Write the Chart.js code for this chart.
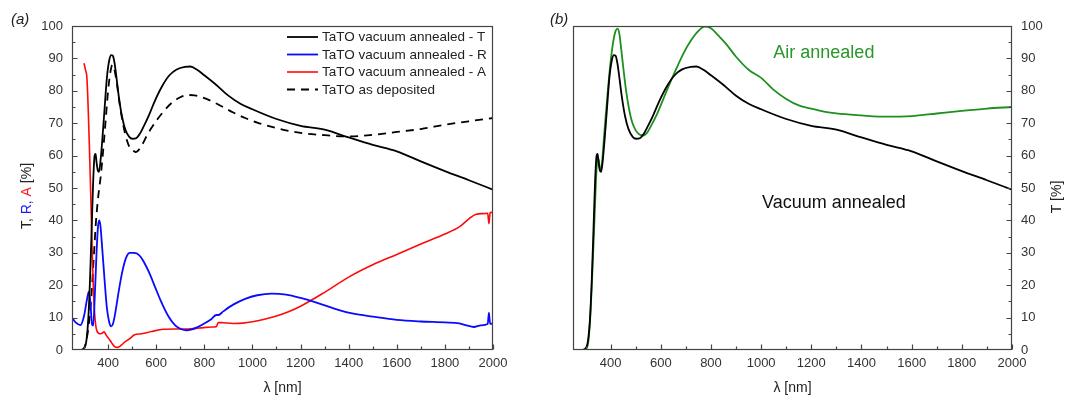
<!DOCTYPE html>
<html>
<head>
<meta charset="utf-8">
<script src="https://cdn.jsdelivr.net/npm/chart.js@4.4.1/dist/chart.umd.min.js"></script>
<style>
body { margin: 0; background: #fff; }
#wrap { position: relative; width: 1066px; height: 398px; }
#chartA { position: absolute; left: 0; top: 0; }
#chartB { position: absolute; left: 540px; top: 0; }
</style>
</head>
<body>
<div id="wrap">
  <canvas id="chartA" width="540" height="398"></canvas>
  <canvas id="chartB" width="526" height="398"></canvas>
</div>
<script>
// wavelength (nm) / value (%)
var tWl  = [285,300,310,318,325,332,338,344,348,352,357,362,368,375,385,395,405,413,420,427,435,445,458,472,488,502,515,530,548,570,595,625,655,685,720,742,770,800,850,900,950,1000,1100,1200,1300,1400,1500,1600,1700,1800,1900,2000];
var tVal = [0,0.5,3,10,22,38,52,60,60.5,58,55.5,55,58,64,74,84,89.5,91,90.8,88.5,84,78,72,68,65.8,65.2,65.3,66.5,69,72.5,77,81.5,84.8,86.6,87.4,87.5,86.5,84.8,81.8,78.5,76,74.3,71.3,69.2,68,65.6,63.3,61.3,58.2,55.2,52.4,49.5];

var depWl  = [290,300,310,320,330,340,350,360,370,380,390,400,410,418,425,435,450,470,490,505,515,530,545,560,580,605,635,665,700,730,760,790,830,870,920,970,1020,1100,1200,1300,1400,1500,1600,1700,1800,1900,2000];
var depVal = [0,0.5,3,8,16,28,40,48,54,62,71,80,86,88,87,83,75,67,62.5,61.5,61.1,62,63.8,66,68.5,71.2,74,76.3,78,78.7,78.6,78,76.8,75.3,73.3,71.6,70.2,68.5,67,66.3,65.9,66.4,67.3,68.2,69.5,70.6,71.6];

var rWl  = [250,265,285,300,312,320,326,333,338,345,352,358,363,368,375,385,395,405,413,420,430,445,460,475,490,505,520,535,550,570,595,620,650,680,705,725,745,770,800,830,850,858,880,920,970,1020,1080,1140,1200,1260,1340,1420,1500,1600,1700,1800,1860,1890,1920,1950,1978,1983,1988,2000];
var rVal = [10,8.5,7.7,10.5,15.5,18,15,8,7.5,17,30,38,40,38.5,32,22,13,8.5,7.3,8,11.5,18.5,24.5,28.5,30,30,29.8,28.8,27,24,19.5,15,10.5,7.5,6.4,6.1,6.3,7,8.2,9.6,10.8,10.8,12,14,15.8,16.9,17.4,17.1,16.1,14.8,12.8,11.2,10.3,9.3,8.8,8.5,8.2,7.6,7.1,7.6,8,11.5,8.1,8.2];

var aWl  = [300,306,312,318,323,329,334,339,343,348,353,365,375,383,392,403,415,428,440,455,470,490,510,540,580,630,680,730,780,830,850,858,880,920,960,1000,1050,1100,1150,1200,1300,1400,1500,1600,1700,1800,1860,1900,1930,1960,1978,1983,1988,2000];
var aVal = [88.5,86.5,84,73,61,45,30,19,12.5,8,6,5,5.2,5.6,4.6,3.5,2.2,1,0.8,1.5,2.5,3.5,4.7,5,5.7,6.4,6.5,6.5,6.8,7.1,7.2,8.5,8.4,8.2,8.3,8.7,9.5,10.5,11.8,13.5,17.8,22.5,26.3,29.5,32.7,35.8,38,40.5,41.9,42.1,42.2,39,42.4,42.5];

var airWl  = [300,310,318,325,332,338,344,349,353,357,361,366,372,380,390,400,410,420,428,435,442,450,460,472,485,500,515,530,545,560,580,605,630,660,690,720,750,775,800,830,860,900,950,1000,1050,1100,1150,1200,1250,1300,1400,1500,1600,1700,1800,1900,2000];
var airVal = [0,2,9,20,33,45,56,59,58.5,56,55.5,58,64,72,81,89,95,98.5,99.2,97.5,93,87.5,81,75,70.5,67.8,66.5,66.2,67,69,72,76.5,81.2,86.5,91.5,95.5,98.5,99.8,99.3,97,94.5,90.5,86.5,84,80.3,77.5,75.5,74.5,73.6,73,72.4,72,72.2,73,73.8,74.5,75];

var xTicks = [400,600,800,1000,1200,1400,1600,1800,2000];
var legendLabels = ['TaTO vacuum annealed - T','TaTO vacuum annealed - R','TaTO vacuum annealed - A','TaTO as deposited'];

var fontFam = '"Liberation Sans", Arial, sans-serif';
Chart.defaults.font.family = fontFam;
Chart.defaults.color = '#333';

function pts(wl, val) {
    return wl.map(function(w, i){ return {x: w, y: val[i]}; });
}

function lineSet(label, wl, val, color, width, dash) {
    return {
        label: label,
        data: pts(wl, val),
        borderColor: color,
        backgroundColor: color,
        borderWidth: width,
        borderDash: dash || [],
        pointRadius: 0,
        fill: false,
        cubicInterpolationMode: 'monotone'
    };
}

// frame + inward ticks
var frameTicks = {
    id: 'frameTicks',
    afterDraw: function(chart) {
        var ctx = chart.ctx, a = chart.chartArea;
        var sx = chart.scales.x, sy = chart.scales.y;
        var side = chart.options.plugins.frameTicks.side;
        var l = Math.round(a.left) + 0.5, r = Math.round(a.right) - 0.5;
        var t = Math.round(a.top) + 0.5, b = Math.round(a.bottom) - 0.5;
        ctx.save();
        ctx.strokeStyle = '#444';
        ctx.lineWidth = 1.2;
        ctx.strokeRect(l, t, r - l, b - t);
        ctx.beginPath();
        for (var v = 300; v <= 2000; v += 100) {
            var px = Math.round(sx.getPixelForValue(v)) + 0.5;
            var len = (v % 200 == 0) ? 5 : 3;
            ctx.moveTo(px, b); ctx.lineTo(px, b - len);
        }
        for (var w = 5; w < 100; w += 5) {
            var py = Math.round(sy.getPixelForValue(w)) + 0.5;
            var ln = (w % 10 == 0) ? 5 : 3;
            if (side == 'left') { ctx.moveTo(l, py); ctx.lineTo(l + ln, py); }
            else { ctx.moveTo(r, py); ctx.lineTo(r - ln, py); }
        }
        ctx.stroke();
        ctx.restore();
    }
};

function plainNum(value) { return String(value); }

function xScale() {
    return {
        type: 'linear', min: 250, max: 2000,
        afterBuildTicks: function(s){ s.ticks = xTicks.map(function(v){ return {value: v}; }); },
        afterFit: function(s){ s.height = 48; },
        grid: {display: false, drawTicks: false},
        border: {display: false},
        ticks: {padding: 6, font: {size: 13}, color: '#333', maxRotation: 0, autoSkip: false, callback: plainNum},
        title: {display: true, text: 'λ [nm]', font: {size: 14}, color: '#222', padding: {top: 0, bottom: 1}}
    };
}

function yScale(pos, w) {
    return {
        type: 'linear', position: pos, min: 0, max: 100,
        afterFit: function(s){ s.width = w; },
        grid: {display: false, drawTicks: false},
        border: {display: false},
        ticks: {stepSize: 10, padding: 9, font: {size: 13}, color: '#333', callback: plainNum}
    };
}

// panel (a) extras: label, coloured y title, legend
var extrasA = {
    id: 'extrasA',
    afterDraw: function(chart) {
        var ctx = chart.ctx;
        ctx.save();
        ctx.fillStyle = '#222';
        ctx.font = 'italic 15px ' + fontFam;
        ctx.textBaseline = 'middle';
        ctx.fillText('(a)', 11, 20);

        // y title, three colours
        var parts = [['T, ', '#222'], ['R, ', '#1a1aff'], ['A', '#ff1a1a'], [' [%]', '#222']];
        ctx.font = '14px ' + fontFam;
        var total = 0;
        parts.forEach(function(p){ total += ctx.measureText(p[0]).width; });
        ctx.translate(27, 196);
        ctx.rotate(-Math.PI / 2);
        var cx = -total / 2;
        parts.forEach(function(p){
            ctx.fillStyle = p[1];
            ctx.fillText(p[0], cx, 0);
            cx += ctx.measureText(p[0]).width;
        });
        ctx.restore();

        // legend
        ctx.save();
        ctx.font = '13.5px ' + fontFam;
        ctx.textBaseline = 'middle';
        var ds = chart.data.datasets;
        var rows = [37, 54.5, 72, 89.5];
        for (var i = 0; i < legendLabels.length; i++) {
            ctx.strokeStyle = ds[i].borderColor;
            ctx.lineWidth = ds[i].borderWidth;
            ctx.setLineDash(ds[i].borderDash);
            ctx.beginPath();
            ctx.moveTo(287, rows[i]); ctx.lineTo(318, rows[i]);
            ctx.stroke();
            ctx.fillStyle = '#222';
            ctx.fillText(legendLabels[i], 322, rows[i] + 0.5);
        }
        ctx.restore();
    }
};

// panel (b) extras: label, y title, curve annotations
var extrasB = {
    id: 'extrasB',
    afterDraw: function(chart) {
        var ctx = chart.ctx, sx = chart.scales.x, sy = chart.scales.y;
        ctx.save();
        ctx.fillStyle = '#222';
        ctx.font = 'italic 15px ' + fontFam;
        ctx.textBaseline = 'middle';
        ctx.fillText('(b)', 10, 20);

        ctx.font = '18px ' + fontFam;
        ctx.textAlign = 'center';
        ctx.fillStyle = '#2a962a';
        ctx.fillText('Air annealed', sx.getPixelForValue(1250), sy.getPixelForValue(91.8));
        ctx.fillStyle = '#111';
        ctx.fillText('Vacuum annealed', sx.getPixelForValue(1290), sy.getPixelForValue(45.5));

        ctx.font = '14px ' + fontFam;
        ctx.fillStyle = '#222';
        ctx.translate(517, 197);
        ctx.rotate(-Math.PI / 2);
        ctx.fillText('T [%]', 0, 0);
        ctx.restore();
    }
};

var chartA = new Chart(document.getElementById('chartA'), {
    type: 'line',
    data: {
        datasets: [
            lineSet(legendLabels[0], tWl, tVal, '#000000', 1.8),
            lineSet(legendLabels[1], rWl, rVal, '#0a0aff', 1.8),
            lineSet(legendLabels[2], aWl, aVal, '#ff0a0a', 1.6),
            lineSet(legendLabels[3], depWl, depVal, '#000000', 1.8, [8, 6])
        ]
    },
    options: {
        responsive: false,
        animation: false,
        layout: {padding: {left: 0, right: 47, top: 26, bottom: 0}},
        scales: { x: xScale(), y: yScale('left', 72) },
        plugins: {
            legend: {display: false},
            tooltip: {enabled: false},
            frameTicks: {side: 'left'}
        }
    },
    plugins: [frameTicks, extrasA]
});

var chartB = new Chart(document.getElementById('chartB'), {
    type: 'line',
    data: {
        datasets: [
            lineSet('Vacuum annealed', tWl, tVal, '#000000', 1.8),
            lineSet('Air annealed', airWl, airVal, '#1f8f1f', 1.8)
        ]
    },
    options: {
        responsive: false,
        animation: false,
        layout: {padding: {left: 33, right: 0, top: 26, bottom: 0}},
        scales: { x: xScale(), y: yScale('right', 54) },
        plugins: {
            legend: {display: false},
            tooltip: {enabled: false},
            frameTicks: {side: 'right'}
        }
    },
    plugins: [frameTicks, extrasB]
});
</script>
</body>
</html>
